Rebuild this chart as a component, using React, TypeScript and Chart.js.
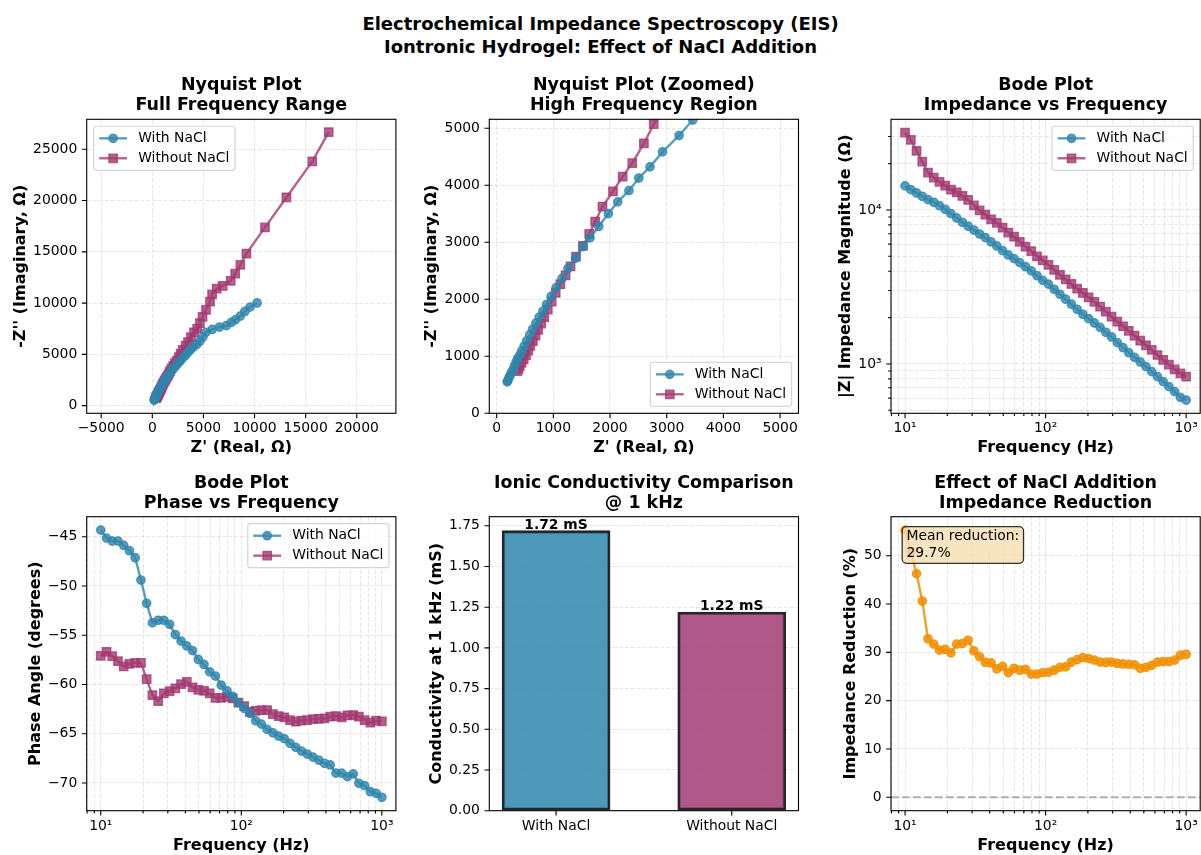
import React, { useEffect, useRef } from 'react';
import { Chart, registerables } from 'chart.js';

Chart.register(...registerables);

const FONT = "'DejaVu Sans', 'Liberation Sans', Arial, sans-serif";
Chart.defaults.font.family = FONT;
Chart.defaults.color = '#000';

// ---------------- data ----------------
const frequencyHz = [10.0, 10.99, 12.07, 13.26, 14.56, 16.0, 17.58, 19.31, 21.21, 23.3, 25.6, 28.12, 30.89, 33.93, 37.28, 40.95, 44.98, 49.42, 54.29, 59.64, 65.51, 71.97, 79.06, 86.85, 95.41, 104.81, 115.14, 126.49, 138.95, 152.64, 167.68, 184.21, 202.36, 222.3, 244.21, 268.27, 294.71, 323.75, 355.65, 390.69, 429.19, 471.49, 517.95, 568.99, 625.06, 686.65, 754.31, 828.64, 910.3, 1000.0];

const impedanceWithNaCl = [14330, 13550, 12890, 12270, 11670, 11220, 10660, 10100, 9460, 8870, 8320, 7840, 7410, 6980, 6610, 6200, 5840, 5440, 5100, 4830, 4550, 4280, 4020, 3740, 3490, 3300, 3055, 2835, 2633, 2442, 2265, 2102, 1968, 1845, 1729, 1606, 1497, 1375, 1275, 1183, 1104, 1030, 960, 891, 827, 767, 712, 661, 607, 583];

const impedanceWithoutNaCl = [31770, 28500, 24170, 20590, 17460, 16210, 15210, 14390, 13550, 13030, 12330, 11610, 10720, 9950, 9310, 8700, 8240, 7680, 7120, 6710, 6200, 5780, 5400, 5000, 4710, 4400, 4080, 3785, 3547, 3307, 3084, 2890, 2710, 2528, 2357, 2188, 2029, 1883, 1757, 1638, 1527, 1417, 1322, 1233, 1143, 1061, 989, 923, 869, 827];

const phaseWithNaCl = [-44.33, -45.14, -45.44, -45.44, -45.88, -46.42, -47.13, -49.4, -51.76, -53.75, -53.48, -53.48, -53.89, -54.93, -55.6, -56.09, -56.56, -57.46, -57.97, -58.72, -59.15, -60.07, -60.64, -61.21, -61.85, -62.43, -62.93, -63.68, -64.02, -64.56, -64.9, -65.23, -65.5, -65.98, -66.38, -66.76, -67.06, -67.37, -67.67, -68.0, -68.17, -69.0, -69.0, -69.35, -69.08, -70.03, -70.27, -70.88, -71.04, -71.45];

const phaseWithoutNaCl = [-57.1, -56.69, -57.13, -57.63, -58.17, -57.9, -57.8, -57.8, -59.46, -61.08, -61.69, -60.91, -60.67, -60.4, -59.96, -59.73, -60.3, -60.54, -60.64, -60.91, -61.35, -61.35, -61.25, -61.41, -61.85, -62.2, -62.77, -62.67, -62.6, -62.6, -63.0, -63.2, -63.34, -63.61, -63.78, -63.68, -63.61, -63.51, -63.48, -63.44, -63.27, -63.2, -63.34, -63.14, -63.1, -63.27, -63.61, -63.88, -63.68, -63.75];

const impedanceReductionPct = [55.3, 50.8, 46.3, 40.6, 32.8, 31.7, 30.45, 30.6, 29.9, 31.7, 31.8, 32.5, 30.3, 29.1, 27.9, 27.8, 26.6, 27.1, 25.8, 26.7, 26.3, 26.5, 25.5, 25.5, 25.8, 25.85, 26.3, 26.9, 27.0, 28.0, 28.5, 28.9, 28.7, 28.4, 28.0, 27.9, 28.0, 27.7, 27.6, 27.5, 27.4, 26.7, 26.9, 27.3, 28.0, 28.1, 28.1, 28.4, 29.4, 29.6];

const seriesLabels = ['With NaCl', 'Without NaCl'];
const conductivityCategories = ['With NaCl', 'Without NaCl'];
const conductivity_mS = [1.72, 1.22];
const meanReductionPct = 29.7;

// ---------------- ticks ----------------
const nyqFullXTicks = [-5000, 0, 5000, 10000, 15000, 20000];
const nyqFullYTicks = [0, 5000, 10000, 15000, 20000, 25000];
const nyqZoomTicks = [0, 1000, 2000, 3000, 4000, 5000];
const freqMajorTicks = [10, 100, 1000];
const freqMajorLabels = ['10\u00b9', '10\u00b2', '10\u00b3'];
const freqMinorTicks = [8, 9, 20, 30, 40, 50, 60, 70, 80, 90, 200, 300, 400, 500, 600, 700, 800, 900];
const zMajorTicks = [1000, 10000];
const zMajorLabels = ['10\u00b3', '10\u2074'];
const zMinorTicks = [500, 600, 700, 800, 900, 2000, 3000, 4000, 5000, 6000, 7000, 8000, 9000, 20000, 30000];
const phaseTicks = [-70, -65, -60, -55, -50, -45];
const condTicks = [0, 0.25, 0.5, 0.75, 1.0, 1.25, 1.5, 1.75];
const condXTicks = [0, 1];
const reductionTicks = [0, 10, 20, 30, 40, 50];

// ---------------- styles ----------------
const C_WITH = 'rgba(46,134,171,0.8)';
const C_WITHOUT = 'rgba(162,59,114,0.8)';
const C_RED = 'rgba(241,143,1,0.85)';
const BAR_WITH = 'rgba(46,134,171,0.85)';
const BAR_WITHOUT = 'rgba(162,59,114,0.85)';
const GRID_COLOR = 'rgba(176,176,176,0.3)';
const TICK_FONT = { family: FONT, size: 13.9 };
const LABEL_SIZE = 16.0;
const LABEL_FONT = { family: FONT, size: LABEL_SIZE, weight: 'bold', lineHeight: 1.2 };
const LABEL_HALF = (LABEL_SIZE * 1.2) / 2;
const TITLE_LINE = 20;
const TITLE_FONT = { family: FONT, size: 17.45, weight: 'bold', lineHeight: TITLE_LINE / 17.45 };

const COLS = [{ cx: 0, L: 86.7 }, { cx: 402, L: 489.3 }, { cx: 804, L: 891 }];
const ROWS = [
  { cy: 60, ch: 400, T: 119.3, titleY: 85.6, xTitleY: 448 },
  { cy: 460, ch: 395, T: 516.7, titleY: 483.3, xTitleY: 845.7 },
];
const PLOT_W = 309.2;
const PLOT_H = 294;
const CANVAS_W = 420;

function geom(col: number, row: number, yTitleX: number) {
  const c = COLS[col];
  const r = ROWS[row];
  return { cx: c.cx, cy: r.cy, cw: CANVAS_W, ch: r.ch, L: c.L, T: r.T, W: PLOT_W, H: PLOT_H, titleY: r.titleY, xTitleY: r.xTitleY, yTitleX };
}

const fmtNum = (v: number) => String(v).replace('-', '\u2212');
const majorLabel = (majors: number[], labels: string[]) => (v: number) => {
  const k = majors.indexOf(v);
  return k >= 0 ? labels[k] : '';
};
const linTicks = (vals: number[]) => vals.map((v) => ({ value: v, major: true }));
const logTicks = (maj: number[], min: number[]) =>
  [...maj.map((v) => ({ value: v, major: true })), ...min.map((v) => ({ value: v, major: false }))].sort((a, b) => a.value - b.value);

function axis(g: any, dir: 'x' | 'y', spec: any) {
  const isX = dir === 'x';
  return {
    type: spec.type,
    min: spec.min,
    max: spec.max,
    bounds: 'data',
    offset: false,
    position: isX ? 'bottom' : 'left',
    afterBuildTicks: (s: any) => {
      s.ticks = spec.ticks.map((t: any) => ({ ...t }));
    },
    afterFit: (s: any) => {
      if (isX) s.height = g.cy + g.ch - (g.T + g.H);
      else s.width = g.L - g.cx;
      s.paddingLeft = 0;
      s.paddingRight = 0;
      s.paddingTop = 0;
      s.paddingBottom = 0;
    },
    grid: { display: spec.grid !== false, drawOnChartArea: true, drawTicks: false, offset: false, color: GRID_COLOR, lineWidth: 1.11 },
    border: { display: false, dash: [4.1, 1.8] },
    ticks: {
      autoSkip: false,
      maxRotation: 0,
      minRotation: 0,
      padding: isX ? 6.9 : 9.4,
      color: '#000',
      font: TICK_FONT,
      callback: (v: any) => spec.label(Number(v)),
    },
    title: spec.title
      ? {
          display: true,
          text: spec.title,
          color: '#000',
          font: LABEL_FONT,
          padding: isX ? { top: 0, bottom: g.cy + g.ch - g.xTitleY - LABEL_HALF } : { top: g.yTitleX - g.cx - LABEL_HALF, bottom: 0 },
        }
      : { display: false },
  };
}

function roundRectPath(ctx: CanvasRenderingContext2D, x: number, y: number, w: number, h: number, r: number) {
  ctx.beginPath();
  ctx.moveTo(x + r, y);
  ctx.lineTo(x + w - r, y);
  ctx.arcTo(x + w, y, x + w, y + r, r);
  ctx.lineTo(x + w, y + h - r);
  ctx.arcTo(x + w, y + h, x + w - r, y + h, r);
  ctx.lineTo(x + r, y + h);
  ctx.arcTo(x, y + h, x, y + h - r, r);
  ctx.lineTo(x, y + r);
  ctx.arcTo(x, y, x + r, y, r);
  ctx.closePath();
}

function drawMarker(ctx: CanvasRenderingContext2D, x: number, y: number, style: string, color: string) {
  ctx.fillStyle = color;
  ctx.strokeStyle = color;
  ctx.lineWidth = 1.4;
  ctx.setLineDash([]);
  ctx.beginPath();
  if (style === 'rect') ctx.rect(x - 4.17, y - 4.17, 8.34, 8.34);
  else ctx.arc(x, y, 4.17, 0, Math.PI * 2);
  ctx.fill();
  ctx.stroke();
}

function mplPlugin(cfg: any) {
  return {
    id: 'mplStyle',
    beforeDatasetsDraw(chart: any) {
      if (!cfg.zeroLine) return;
      const { ctx, chartArea: a } = chart;
      const y = chart.scales.y.getPixelForValue(0);
      ctx.save();
      ctx.strokeStyle = 'rgba(128,128,128,0.6)';
      ctx.lineWidth = 2.08;
      ctx.setLineDash([7.7, 3.3]);
      ctx.beginPath();
      ctx.moveTo(a.left, y);
      ctx.lineTo(a.right, y);
      ctx.stroke();
      ctx.restore();
    },
    afterDatasetsDraw(chart: any) {
      const { ctx, chartArea: a } = chart;
      ctx.save();
      if (cfg.barLabels) {
        const meta = chart.getDatasetMeta(0);
        ctx.font = `bold 13.9px ${FONT}`;
        ctx.fillStyle = '#000';
        ctx.textAlign = 'center';
        ctx.textBaseline = 'alphabetic';
        meta.data.forEach((el: any, i: number) => {
          ctx.fillText(`${conductivity_mS[i].toFixed(2)} mS`, el.x, el.y - 2.2);
        });
      }
      // spines
      ctx.setLineDash([]);
      ctx.strokeStyle = '#000';
      ctx.lineWidth = 1.11;
      ctx.strokeRect(a.left, a.top, a.right - a.left, a.bottom - a.top);
      // tick marks
      const xs = chart.scales.x;
      const ys = chart.scales.y;
      ctx.beginPath();
      for (const t of xs.ticks) {
        const p = xs.getPixelForValue(t.value);
        const len = t.major === false ? 2.78 : 4.86;
        ctx.moveTo(p, a.bottom);
        ctx.lineTo(p, a.bottom + len);
      }
      for (const t of ys.ticks) {
        const p = ys.getPixelForValue(t.value);
        const len = t.major === false ? 2.78 : 4.86;
        ctx.moveTo(a.left, p);
        ctx.lineTo(a.left - len, p);
      }
      ctx.stroke();

      // legend
      if (cfg.legend) {
        const fs = 13.9;
        const pad = 0.4 * fs;
        const hl = 2 * fs;
        const htp = 0.8 * fs;
        const ls = 0.5 * fs;
        const axpad = 0.5 * fs;
        const rowH = 13;
        ctx.font = `${fs}px ${FONT}`;
        const items = cfg.legend.items;
        const tw = Math.max(...items.map((it: any) => ctx.measureText(it.label).width));
        const w = pad + hl + htp + tw + pad;
        const h = 2 * pad + items.length * rowH + (items.length - 1) * ls;
        const loc = cfg.legend.loc;
        const x = loc.includes('left') ? a.left + axpad : a.right - axpad - w;
        const y = loc.includes('upper') ? a.top + axpad : a.bottom - axpad - h;
        roundRectPath(ctx, x, y, w, h, 2.8);
        ctx.fillStyle = 'rgba(255,255,255,0.8)';
        ctx.fill();
        ctx.strokeStyle = 'rgba(204,204,204,0.8)';
        ctx.lineWidth = 1.2;
        ctx.stroke();
        items.forEach((it: any, k: number) => {
          const cyy = y + pad + rowH / 2 + k * (rowH + ls);
          ctx.strokeStyle = it.color;
          ctx.lineWidth = 2.4;
          ctx.beginPath();
          ctx.moveTo(x + pad, cyy);
          ctx.lineTo(x + pad + hl, cyy);
          ctx.stroke();
          drawMarker(ctx, x + pad + hl / 2, cyy, it.style, it.color);
          ctx.fillStyle = '#000';
          ctx.font = `${fs}px ${FONT}`;
          ctx.textAlign = 'left';
          ctx.textBaseline = 'middle';
          ctx.fillText(it.label, x + pad + hl + htp, cyy);
        });
      }

      // annotation box
      if (cfg.annotation) {
        const lines: string[] = cfg.annotation;
        const tx = a.left + 0.05 * (a.right - a.left);
        const ttop = a.top + 0.05 * (a.bottom - a.top);
        ctx.font = `13.9px ${FONT}`;
        const w = Math.max(...lines.map((l) => ctx.measureText(l).width));
        const l1 = ttop + 5.4;
        const l2 = l1 + 16.5;
        roundRectPath(ctx, tx - 4.3, ttop - 4.7, w + 8.6, l2 + 10 - (ttop - 4.7), 4.2);
        ctx.fillStyle = 'rgba(245,222,179,0.8)';
        ctx.fill();
        ctx.strokeStyle = 'rgba(0,0,0,0.8)';
        ctx.lineWidth = 1.3;
        ctx.stroke();
        ctx.fillStyle = '#000';
        ctx.textAlign = 'left';
        ctx.textBaseline = 'middle';
        ctx.fillText(lines[0], tx, l1);
        ctx.fillText(lines[1], tx, l2);
      }
      ctx.restore();
    },
  };
}

function lineDS(label: string, data: any[], color: string, style: string) {
  return {
    label,
    data,
    borderColor: color,
    backgroundColor: color,
    borderWidth: 2.4,
    pointStyle: style,
    pointRadius: style === 'rect' ? 5.9 : 4.17,
    pointBorderWidth: 1.4,
    pointBorderColor: color,
    pointBackgroundColor: color,
    showLine: true,
    tension: 0,
    fill: false,
    clip: 0,
  };
}

function baseOptions(g: any, title: string[], scales: any) {
  const tPadTop = g.titleY - g.cy - TITLE_LINE / 2;
  return {
    responsive: false,
    animation: false,
    events: [],
    layout: { padding: { left: 0, top: 0, bottom: 0, right: g.cx + g.cw - (g.L + g.W) } },
    plugins: {
      legend: { display: false },
      tooltip: { enabled: false },
      title: {
        display: true,
        text: title,
        color: '#000',
        font: TITLE_FONT,
        fullSize: false,
        padding: { top: tPadTop, bottom: g.T - g.cy - tPadTop - 2 * TITLE_LINE },
      },
    },
    scales,
  };
}

const toNyquist = (mag: number[], ph: number[]) =>
  mag.map((m, i) => ({ x: m * Math.cos((ph[i] * Math.PI) / 180), y: -m * Math.sin((ph[i] * Math.PI) / 180) }));
const vsFreq = (vals: number[]) => vals.map((v, i) => ({ x: frequencyHz[i], y: v }));

const legendItems = [
  { label: seriesLabels[0], color: C_WITH, style: 'circle' },
  { label: seriesLabels[1], color: C_WITHOUT, style: 'rect' },
];

const freqTicks = logTicks(freqMajorTicks, freqMinorTicks);
const freqLabel = majorLabel(freqMajorTicks, freqMajorLabels);

function buildPanels() {
  const nyqWith = toNyquist(impedanceWithNaCl, phaseWithNaCl);
  const nyqWithout = toNyquist(impedanceWithoutNaCl, phaseWithoutNaCl);

  const g1 = geom(0, 0, 20.7);
  const g2 = geom(1, 0, 431.7);
  const g3 = geom(2, 0, 845.7);
  const g4 = geom(0, 1, 36);
  const g5 = geom(1, 1, 436.7);
  const g6 = geom(2, 1, 850.7);

  const p1 = {
    g: g1,
    config: {
      type: 'line',
      data: { datasets: [lineDS(seriesLabels[0], nyqWith, C_WITH, 'circle'), lineDS(seriesLabels[1], nyqWithout, C_WITHOUT, 'rect')] },
      options: baseOptions(g1, ['Nyquist Plot', 'Full Frequency Range'], {
        x: axis(g1, 'x', { type: 'linear', min: -6420, max: 23830, ticks: linTicks(nyqFullXTicks), label: fmtNum, title: "Z' (Real, \u03a9)" }),
        y: axis(g1, 'y', { type: 'linear', min: -745, max: 27925, ticks: linTicks(nyqFullYTicks), label: fmtNum, title: "-Z'' (Imaginary, \u03a9)" }),
      }),
      plugins: [mplPlugin({ legend: { loc: 'upper left', items: legendItems } })],
    },
  };

  const p2 = {
    g: g2,
    config: {
      type: 'line',
      data: { datasets: [lineDS(seriesLabels[0], nyqWith, C_WITH, 'circle'), lineDS(seriesLabels[1], nyqWithout, C_WITHOUT, 'rect')] },
      options: baseOptions(g2, ['Nyquist Plot (Zoomed)', 'High Frequency Region'], {
        x: axis(g2, 'x', { type: 'linear', min: -130, max: 5325, ticks: linTicks(nyqZoomTicks), label: fmtNum, title: "Z' (Real, \u03a9)" }),
        y: axis(g2, 'y', { type: 'linear', min: 0, max: 5158, ticks: linTicks(nyqZoomTicks), label: fmtNum, title: "-Z'' (Imaginary, \u03a9)" }),
      }),
      plugins: [mplPlugin({ legend: { loc: 'lower right', items: legendItems } })],
    },
  };

  const p3 = {
    g: g3,
    config: {
      type: 'line',
      data: {
        datasets: [
          lineDS(seriesLabels[0], vsFreq(impedanceWithNaCl), C_WITH, 'circle'),
          lineDS(seriesLabels[1], vsFreq(impedanceWithoutNaCl), C_WITHOUT, 'rect'),
        ],
      },
      options: baseOptions(g3, ['Bode Plot', 'Impedance vs Frequency'], {
        x: axis(g3, 'x', { type: 'logarithmic', min: 7.943, max: 1258.9, ticks: freqTicks, label: freqLabel, title: 'Frequency (Hz)' }),
        y: axis(g3, 'y', {
          type: 'logarithmic',
          min: 478,
          max: 38800,
          ticks: logTicks(zMajorTicks, zMinorTicks),
          label: majorLabel(zMajorTicks, zMajorLabels),
          title: '|Z| Impedance Magnitude (\u03a9)',
        }),
      }),
      plugins: [mplPlugin({ legend: { loc: 'upper right', items: legendItems } })],
    },
  };

  const p4 = {
    g: g4,
    config: {
      type: 'line',
      data: {
        datasets: [
          lineDS(seriesLabels[0], vsFreq(phaseWithNaCl), C_WITH, 'circle'),
          lineDS(seriesLabels[1], vsFreq(phaseWithoutNaCl), C_WITHOUT, 'rect'),
        ],
      },
      options: baseOptions(g4, ['Bode Plot', 'Phase vs Frequency'], {
        x: axis(g4, 'x', { type: 'logarithmic', min: 7.943, max: 1258.9, ticks: freqTicks, label: freqLabel, title: 'Frequency (Hz)' }),
        y: axis(g4, 'y', { type: 'linear', min: -72.81, max: -42.97, ticks: linTicks(phaseTicks), label: fmtNum, title: 'Phase Angle (degrees)' }),
      }),
      plugins: [mplPlugin({ legend: { loc: 'upper right', items: legendItems } })],
    },
  };

  const condXMin = -0.38;
  const condXMax = 1.38;
  const p5 = {
    g: g5,
    config: {
      type: 'bar',
      data: {
        datasets: [
          {
            label: 'Conductivity',
            data: conductivity_mS.map((v, i) => ({ x: i, y: v })),
            backgroundColor: [BAR_WITH, BAR_WITHOUT],
            borderColor: 'rgba(0,0,0,0.85)',
            borderWidth: 2.6,
            borderSkipped: false,
            barThickness: (PLOT_W * 0.6) / (condXMax - condXMin) + 2.6,
          },
        ],
      },
      options: baseOptions(g5, ['Ionic Conductivity Comparison', '@ 1 kHz'], {
        x: axis(g5, 'x', {
          type: 'linear',
          min: condXMin,
          max: condXMax,
          ticks: linTicks(condXTicks),
          label: (v: number) => conductivityCategories[v] ?? '',
          grid: false,
        }),
        y: axis(g5, 'y', {
          type: 'linear',
          min: 0,
          max: 1.806,
          ticks: linTicks(condTicks),
          label: (v: number) => v.toFixed(2),
          title: 'Conductivity at 1 kHz (mS)',
        }),
      }),
      plugins: [mplPlugin({ barLabels: true })],
    },
  };

  const p6 = {
    g: g6,
    config: {
      type: 'line',
      data: { datasets: [lineDS('Reduction', vsFreq(impedanceReductionPct), C_RED, 'circle')] },
      options: baseOptions(g6, ['Effect of NaCl Addition', 'Impedance Reduction'], {
        x: axis(g6, 'x', { type: 'logarithmic', min: 7.943, max: 1258.9, ticks: freqTicks, label: freqLabel, title: 'Frequency (Hz)' }),
        y: axis(g6, 'y', { type: 'linear', min: -2.77, max: 58.07, ticks: linTicks(reductionTicks), label: fmtNum, title: 'Impedance Reduction (%)' }),
      }),
      plugins: [mplPlugin({ zeroLine: true, annotation: ['Mean reduction:', `${meanReductionPct.toFixed(1)}%`] })],
    },
  };

  return [p1, p2, p3, p4, p5, p6];
}

const PANELS = buildPanels();

export default function App() {
  const canvases = useRef<(HTMLCanvasElement | null)[]>([]);

  useEffect(() => {
    const charts = PANELS.map((p, i) => new Chart(canvases.current[i] as HTMLCanvasElement, p.config as any));
    return () => charts.forEach((c) => c.destroy());
  }, []);

  return (
    <div
      style={{
        position: 'absolute',
        left: 0,
        top: 0,
        width: 1201,
        height: 855,
        overflow: 'hidden',
        background: '#fff',
        fontFamily: FONT,
      }}
    >
      <div
        style={{
          position: 'absolute',
          left: 0,
          top: 11.5,
          width: 1201,
          textAlign: 'center',
          fontWeight: 'bold',
          fontSize: 18,
          lineHeight: '23px',
          color: '#000',
        }}
      >
        Electrochemical Impedance Spectroscopy (EIS)
        <br />
        Iontronic Hydrogel: Effect of NaCl Addition
      </div>
      {PANELS.map((p, i) => (
        <canvas
          key={i}
          ref={(el) => {
            canvases.current[i] = el;
          }}
          width={p.g.cw}
          height={p.g.ch}
          style={{ position: 'absolute', left: p.g.cx, top: p.g.cy, width: p.g.cw, height: p.g.ch }}
        />
      ))}
    </div>
  );
}
